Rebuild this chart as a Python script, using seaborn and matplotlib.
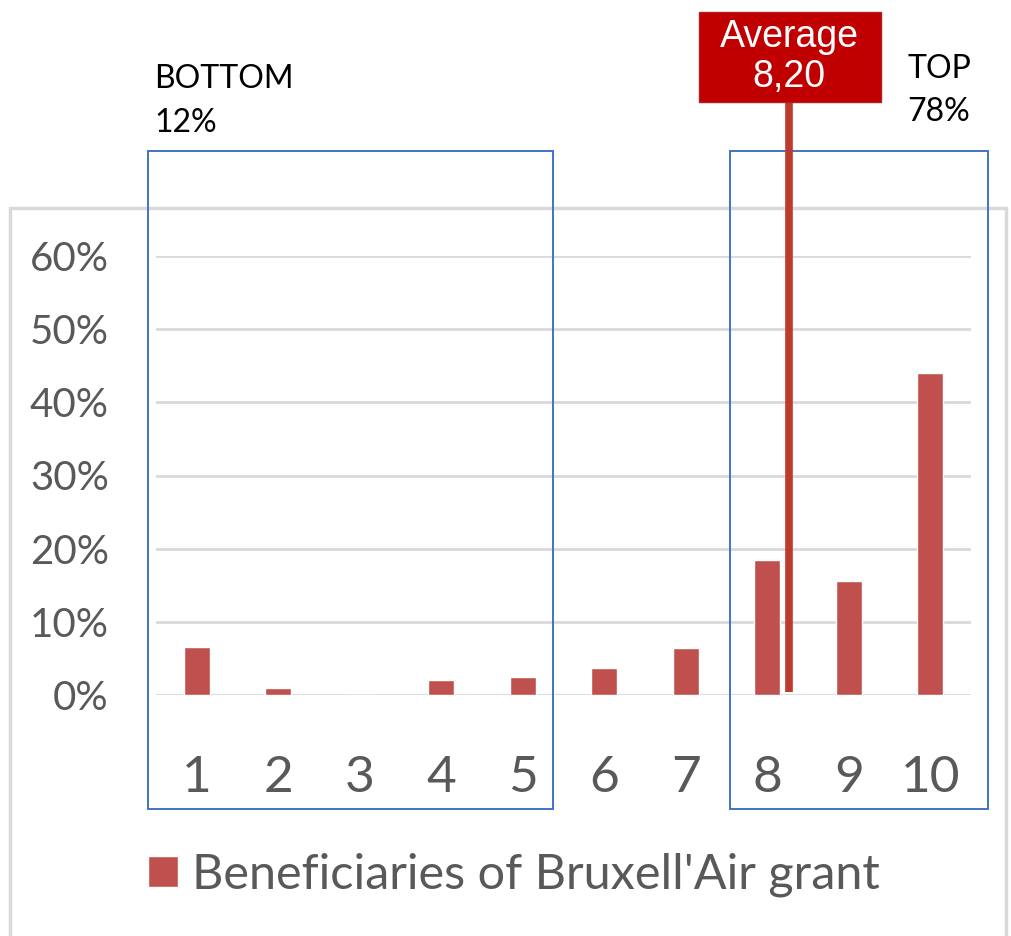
import numpy as np
import matplotlib.pyplot as plt
import seaborn as sns
from matplotlib.patches import Rectangle
import pandas as pd

# data
scores = ["1", "2", "3", "4", "5", "6", "7", "8", "9", "10"]
share = [0.066, 0.009, 0.0, 0.020, 0.024, 0.037, 0.064, 0.184, 0.156, 0.440]
yticks = [0.0, 0.1, 0.2, 0.3, 0.4, 0.5, 0.6]
ytick_labels = ["0%", "10%", "20%", "30%", "40%", "50%", "60%"]
series_name = "Beneficiaries of Bruxell'Air grant"
average_label = "Average\n8,20"
average_pos = 8.27   # where the marker sits on the score axis in the picture
bottom_label = "BOTTOM\n12%"
top_label = "TOP\n78%"

df = pd.DataFrame({"score": scores, "share": share})

sns.set_style("white")
plt.rcParams['font.family'] = ['Lato', 'DejaVu Sans']

fig = plt.figure(figsize=(10.12, 9.36), dpi=100)
ax = fig.add_axes([156/1012, 1-695/936, 815/1012, 439/936])

sns.barplot(data=df, x="score", y="share", color="#C0504D", width=0.32,
            saturation=1, label=series_name, ax=ax, zorder=3)

ax.set_ylim(0, 0.6)
ax.set_xlim(-0.5, 9.5)
ax.set_yticks(yticks)
ax.set_yticklabels(ytick_labels)
ax.yaxis.grid(True, color="#D9D9D9", linewidth=2, zorder=0)
ax.xaxis.grid(False)
for s in ax.spines.values():
    s.set_visible(False)
ax.set_xlabel("")
ax.set_ylabel("")
ax.tick_params(axis='y', length=0, pad=34, labelsize=29, labelcolor="#595959")
ax.tick_params(axis='x', length=0, pad=43, labelsize=37, labelcolor="#595959")

# outer chart frame
fig.add_artist(Rectangle((10/1012, -0.01), 996/1012, 1-208/936+0.01,
                         transform=fig.transFigure, fill=False,
                         edgecolor="#D9D9D9", linewidth=2.5, zorder=0))

# blue group boxes
blue = "#4472C4"
ax.add_patch(Rectangle((-0.6, -0.156), 4.97, 0.899, fill=False, edgecolor=blue,
                       linewidth=1.4, clip_on=False, zorder=5))
ax.add_patch(Rectangle((6.54, -0.156), 3.17, 0.899, fill=False, edgecolor=blue,
                       linewidth=1.4, clip_on=False, zorder=5))
ax.text(-0.52, 0.862, bottom_label, fontsize=23, color="black", ha="left",
        va="top", linespacing=1.55)
ax.text(8.72, 0.876, top_label, fontsize=23, color="black", ha="left",
        va="top", linespacing=1.55)

# average marker
avg_x = average_pos - 1
ax.plot([avg_x, avg_x], [0.004, 0.81], color="#BE3A2C", linewidth=5.5,
        solid_capstyle="butt", clip_on=False, zorder=6)
ax.add_patch(Rectangle((avg_x - 1.11, 0.81), 2.23, 0.123, facecolor="#C00000",
                       edgecolor="#B02020", linewidth=1, clip_on=False, zorder=7))
ax.text(avg_x, 0.8715, average_label,
        fontsize=27, color="white", ha="center", va="center",
        family="Liberation Sans", linespacing=1.15, zorder=8)

ax.legend(loc="center", bbox_to_anchor=(514/1012, 1-875/936),
          bbox_transform=fig.transFigure, frameon=False, fontsize=35,
          handlelength=0.62, handleheight=0.62, handletextpad=0.3,
          labelcolor="#595959")

fig.savefig("out.png", dpi=100)
